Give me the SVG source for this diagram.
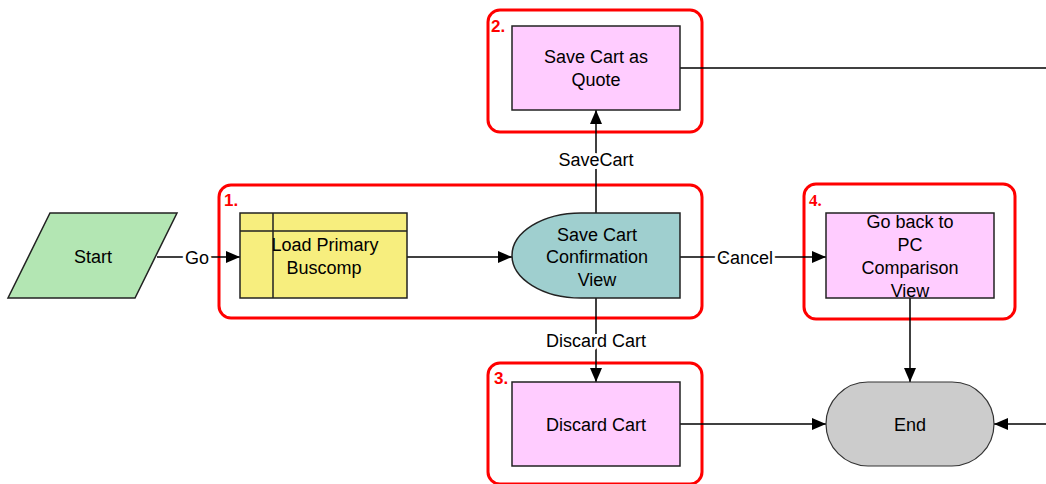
<svg xmlns="http://www.w3.org/2000/svg" width="1046" height="484" viewBox="0 0 1046 484">
<defs>
<style>
text{font-family:"Liberation Sans",Arial,sans-serif;font-size:18px;fill:#000;text-anchor:middle}
.grp{fill:none;stroke:#ff0000;stroke-width:3}
.gl{fill:#ff0000;font-weight:bold;font-size:17px;text-anchor:start}
.box{stroke:#222;stroke-width:1.5}
.pink{fill:#ffccff}
.edge{fill:none;stroke:#000;stroke-width:1.5;marker-end:url(#arr)}
.el{paint-order:stroke;stroke:#fff;stroke-width:6px;stroke-linejoin:round}
</style>
<marker id="arr" markerUnits="userSpaceOnUse" markerWidth="15" markerHeight="13" refX="14" refY="6" orient="auto">
<path d="M0,0 L14,6 L0,12 z" fill="#000"/>
</marker>
</defs>
<rect width="1046" height="484" fill="#fff"/>
<g id="groups">
<rect class="grp" x="219" y="185" width="483" height="133" rx="12"/>
<text class="gl" x="224" y="206">1.</text>
<rect class="grp" x="488" y="10" width="214" height="122" rx="12"/>
<text class="gl" x="491" y="32">2.</text>
<rect class="grp" x="488" y="363" width="214" height="121" rx="12"/>
<text class="gl" x="494" y="384">3.</text>
<rect class="grp" x="804" y="184" width="211" height="135" rx="12"/>
<text class="gl" x="809" y="206" style="font-family:'Liberation Serif',serif">4.</text>
</g>
<g id="connectors">
<path class="edge" d="M157,257 H240"/>
<path class="edge" d="M407,257 H512"/>
<path class="edge" d="M596,213 V110"/>
<path class="edge" d="M680,257 H826"/>
<path class="edge" d="M596,298 V382"/>
<path class="edge" d="M910,298 V382"/>
<path class="edge" d="M680,424 H826"/>
<path class="edge" d="M1046,424 H994"/>
<path d="M680,68 H1046" fill="none" stroke="#000" stroke-width="1.5"/>
<text class="el" x="197" y="264">Go</text>
<text class="el" x="596" y="166">SaveCart</text>
<text class="el" x="745" y="264">Cancel</text>
<text class="el" x="596" y="347">Discard Cart</text>
</g>
<g id="start">
<polygon points="50,213 177,213 135,298 8,298" fill="#b3e6b3" class="box"/>
<text x="93" y="263">Start</text>
</g>
<g id="load">
<rect x="240" y="213" width="167" height="85" fill="#f7ee7e" class="box"/>
<path d="M240,231 H407 M273,213 V298" stroke="#222" stroke-width="1.5"/>
<text x="325" y="251">Load Primary</text>
<text x="324" y="274">Buscomp</text>
</g>
<g id="confirm">
<path d="M581,213 H680 V298 H581 A69,42.5 0 0 1 581,213 Z" fill="#9fcfcf" class="box"/>
<text x="597" y="241">Save Cart</text>
<text x="597" y="263">Confirmation</text>
<text x="597" y="286">View</text>
</g>
<g id="quote">
<rect x="512" y="26" width="168" height="84" class="box pink"/>
<text x="596" y="63">Save Cart as</text>
<text x="596" y="86">Quote</text>
</g>
<g id="goback">
<rect x="826" y="213" width="168" height="85" class="box pink"/>
<text x="910" y="228">Go back to</text>
<text x="910" y="251">PC</text>
<text x="910" y="274">Comparison</text>
<text x="910" y="297">View</text>
</g>
<g id="discard">
<rect x="512" y="382" width="168" height="84" class="box pink"/>
<text x="596" y="431">Discard Cart</text>
</g>
<g id="end">
<rect x="826" y="382" width="168" height="84" rx="42" ry="42" fill="#cccccc" stroke="#333" stroke-width="1.2"/>
<text x="910" y="431">End</text>
</g>
</svg>
